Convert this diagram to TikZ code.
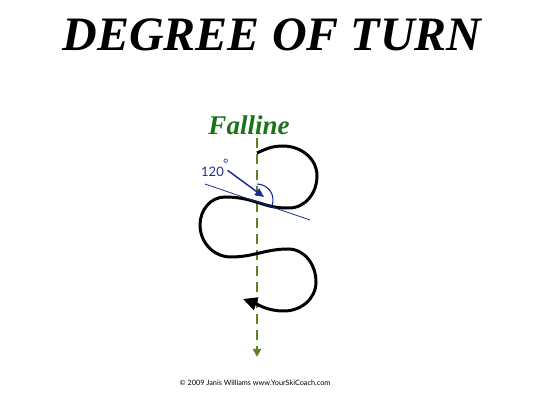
\documentclass[tikz,border=0pt]{standalone}
\usepackage{fontspec}
\usepackage{tikz}
\usetikzlibrary{arrows.meta}
\setmainfont{Liberation Serif}
\newfontfamily\labelfont{Lato}
\definecolor{fallgreen}{RGB}{25,115,25}
\definecolor{dashgreen}{RGB}{95,130,35}
\definecolor{angleblue}{RGB}{30,45,150}

\begin{document}
\begin{tikzpicture}[x=1pt, y=1pt,
                    title/.style={font=\fontsize{48}{48}\selectfont\bfseries\itshape},
                    falltext/.style={text=fallgreen, font=\fontsize{27}{27}\selectfont\bfseries\itshape},
                    fallline/.style={dashgreen, line width=2pt, dash pattern=on 10pt off 6pt, -{Triangle[length=8pt,width=8pt]}},
                    turn/.style={line width=3pt, -{Triangle[length=14pt,width=13pt]}},
                    blue/.style={angleblue, line width=1.1pt}]
                    \useasboundingbox (0,0) rectangle (545,401);
                    \node[title] (heading) at (272,366) {DEGREE OF TURN};
                    \node[falltext] (falline) at (249,276) {Falline};
                    \node[text=angleblue, font=\labelfont\fontsize{13}{13}\selectfont, inner sep=1pt, anchor=base west] (angle) at (200,224) {120\kern-0.8pt\raisebox{8pt}{\char"00B0}};
                    \node[font=\labelfont\fontsize{7.3}{7.3}\selectfont] (credit) at (255,18) {\char"00A9{} 2009 Janis Williams www.YourSkiCoach.com};
                
                    \coordinate (fall top) at (257,263);
                    \coordinate (fall end) at (257,44);
                    \coordinate (start) at (257,248);
                    \coordinate (finish) at (243,102);
                    \coordinate (vertex) at (257,201);
                    \coordinate (pointer) at (264,204);
                    \coordinate (touch) at (266,196);
                    \coordinate (tan a) at (205,217);
                    \coordinate (tan b) at (310,181);
                
                    \draw[fallline] (fall top) -- (fall end);
                    \draw[turn] (start) to[out=25,in=180] (283,255) to[out=0,in=90] (317,225)
                        to[out=-90,in=0] (289,193) to[out=180,in=-17] (touch)
                        to[out=163,in=0] (225,204) to[out=180,in=90] (200,176)
                        to[out=-90,in=180] (231,144) to[out=0,in=180] (288,152)
                        to[out=0,in=90] (316,119) to[out=-90,in=0] (284,90)
                        to[out=180,in=-20] (finish);
                    \draw[blue, line width=0.8pt] (tan a) -- (tan b);
                    \draw[blue] (vertex) ++(0,16) arc[start angle=90, end angle=-18, radius=16];
                    \draw[blue, line width=1.5pt, -{Triangle[length=9pt,width=8pt]}] (angle.east) ++(-2,-2) -- (pointer);
                \end{tikzpicture}
\end{document}
